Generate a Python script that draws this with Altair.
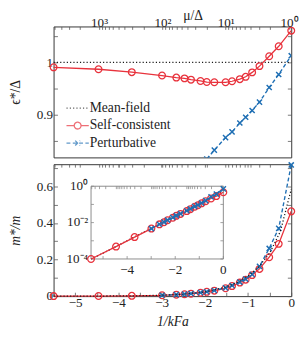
import altair as alt
import numpy as np
import pandas as pd

# ---------------- data ----------------
inv_kfa = [-5.50, -4.46, -3.69, -2.99, -2.66, -2.47, -2.32, -2.10, -1.955, -1.78,
           -1.52, -1.37, -1.19, -1.055, -0.905, -0.735, -0.51, -0.29, 0.0]
sc_eps = [0.9907, 0.987, 0.9814, 0.975, 0.971, 0.9695, 0.967, 0.9645, 0.9625, 0.962,
          0.962, 0.964, 0.968, 0.9725, 0.981, 0.993, 1.012, 1.031, 1.061]
pert_eps_x = inv_kfa[8:]
pert_eps = [0.815, 0.832, 0.856, 0.867, 0.884, 0.895, 0.908, 0.924, 0.952, 0.977, 1.013]
sc_mass = [1.0e-4, 4.8e-4, 1.6e-3, 4.7e-3, 8.0e-3, 0.0105, 0.0135, 0.0185, 0.0235, 0.030,
           0.043, 0.055, 0.074, 0.090, 0.115, 0.149, 0.213, 0.286, 0.464]
pert_mass_x = inv_kfa[3:]
pert_mass = [4.7e-3, 8.1e-3, 0.0107, 0.0138, 0.019, 0.024, 0.031, 0.045, 0.058, 0.077,
             0.093, 0.119, 0.163, 0.261, 0.371, 0.718]
mf_x = [-5.5, -5.0, -4.5, -4.0, -3.5, -3.0, -2.5, -2.0, -1.5, -1.25, -1.0, -0.75, -0.5, -0.25, 0.0]
mf_mass = [1.0e-4, 2.1e-4, 4.6e-4, 1.0e-3, 2.2e-3, 4.9e-3, 0.0107, 0.0234, 0.051, 0.075,
           0.11, 0.16, 0.235, 0.355, 0.585]
mf_eps = [1.0] * len(mf_x)

series = ["Mean-field", "Self-consistent", "Perturbative"]

# tick labels
mu_major = [1000, 100, 10, 1]
mu_major_labels = ["10³", "10²", "10¹", "10⁰"]
eps_ticks = [0.85, 0.9, 0.95, 1.0, 1.05]
mass_ticks = [0.0, 0.1, 0.2, 0.3, 0.4, 0.5, 0.6, 0.7]
x_ticks = [-5.0, -4.0, -3.0, -2.0, -1.0, 0.0]
x_half_ticks = [-5.5, -5.0, -4.5, -4.0, -3.5, -3.0, -2.5, -2.0, -1.5, -1.0, -0.5, 0.0]
inset_y_ticks = [1e-4, 1e-3, 1e-2, 1e-1, 1.0]
inset_y_labels = ["10⁻⁴", "", "10⁻²", "", "10⁰"]
inset_x_labels = ["", "−4", "", "−2", "", "0"]

# ---------------- layout / style ----------------
W, H1, H2 = 245, 135, 136
XDOM = [-5.5, 0.0]
EPS_DOM = [0.818, 1.069]
MASS_DOM = [0.0, 0.722]
INSET_YDOM = [1e-4, 1.0]
INSET_XR = [38.6, 175.0]
INSET_YR = [97.7, 22.7]

FONT = "Liberation Serif"
RED = "#e8323c"
BLUE = "#1f6fb4"
BLACK = "#1a1a1a"
TICKC = "#555555"
IN4 = {"expr": "-4"}
IN3 = {"expr": "-3"}


def mu_to_x(mu):
    # position of mu/Delta on the 1/kFa axis
    return (-0.0342 - np.log10(mu)) * 1.4658


mu_all = [m * 10 ** k for k in range(0, 4) for m in range(1, 10)]
mu_ticks = [round(float(mu_to_x(m)), 4) for m in mu_all if XDOM[0] <= mu_to_x(m) <= XDOM[1]]
mu_label_pos = [round(float(mu_to_x(m)), 4) for m in mu_major]
mu_expr = " : ".join(
    f"abs(datum.value - ({p})) < 0.001 ? '{l}'" for p, l in zip(mu_label_pos, mu_major_labels)
) + " : ''"

x_scale = alt.Scale(domain=XDOM, nice=False, zero=False)
eps_scale = alt.Scale(domain=EPS_DOM, nice=False, zero=False)
mass_scale = alt.Scale(domain=MASS_DOM, nice=False, zero=False)
inset_x_scale = alt.Scale(domain=XDOM, range=INSET_XR, nice=False, zero=False)
inset_y_scale = alt.Scale(type="log", domain=INSET_YDOM, range=INSET_YR, nice=False)

df_mf_top = pd.DataFrame({"x": mf_x, "y": mf_eps})
df_sc_top = pd.DataFrame({"x": inv_kfa, "y": sc_eps})
df_pt_top = pd.DataFrame({"x": pert_eps_x, "y": pert_eps})
df_mf_bot = pd.DataFrame({"x": mf_x, "y": mf_mass})
df_sc_bot = pd.DataFrame({"x": inv_kfa, "y": sc_mass})
df_pt_bot = pd.DataFrame({"x": pert_mass_x, "y": pert_mass})
df_leg = pd.DataFrame({"series": series})
df_in_y = pd.DataFrame({"y": inset_y_ticks, "t": inset_y_labels})
df_in_x = pd.DataFrame({"x": x_ticks, "t": inset_x_labels})
df_in_mu = pd.DataFrame({"x": mu_ticks})

X_PATH = "M-1,-1L1,1M-1,1L1,-1"


def series_layers(df, xs, ys, kind, clip=False):
    enc = dict(x=alt.X("x:Q", scale=xs, axis=None), y=alt.Y("y:Q", scale=ys, axis=None))
    if kind == "mf":
        return [alt.Chart(df).mark_line(color=BLACK, strokeDash=[1.2, 2.2], strokeWidth=1.3,
                                        clip=clip).encode(**enc)]
    if kind == "sc":
        return [
            alt.Chart(df).mark_line(color=RED, strokeWidth=1.3, clip=clip).encode(**enc),
            alt.Chart(df).mark_point(shape="circle", filled=False, size=48, strokeWidth=1.3,
                                     color=RED, opacity=1, clip=clip).encode(**enc),
        ]
    return [
        alt.Chart(df).mark_line(color=BLUE, strokeDash=[4, 2.5], strokeWidth=1.4, clip=clip).encode(**enc),
        alt.Chart(df).mark_point(shape=X_PATH, filled=False, size=28, strokeWidth=1.5,
                                 color=BLUE, opacity=1, clip=clip).encode(**enc),
    ]


def axes_layer(df, xs, ys, xaxis, yaxis):
    return alt.Chart(df).mark_point(opacity=0).encode(
        x=alt.X("x:Q", scale=xs, axis=xaxis), y=alt.Y("y:Q", scale=ys, axis=yaxis)
    )


def qd(v, scale):
    return dict(datum=v, type="quantitative", scale=scale, axis=None)


# ---------------- top panel ----------------
ax_top_mu = alt.Axis(orient="top", values=mu_ticks, labelExpr=mu_expr, tickSize=IN3,
                     labelPadding=0, labelFlush=False, labelOverlap=False,
                     title="μ/Δ", titleX=143.3, titleY=-7.0, titleAlign="center",
                     titleBaseline="alphabetic", titleAngle=0)
ax_eps = alt.Axis(orient="left", values=eps_ticks,
                  labelExpr="abs(datum.value-1)<1e-6 ? '1' : abs(datum.value-0.9)<1e-6 ? '0.9' : ''",
                  tickSize=IN4, labelPadding=5, labelOverlap=False, title="ϵ*/Δ", titlePadding=14.5)
ax_eps_r = alt.Axis(orient="right", values=eps_ticks, labels=False, tickSize=IN4, title=None)

sym_line = "M-2.3,0L2.3,0"
sym_circ = "M-2.3,0L-0.7,0M0.7,0L2.3,0M0.7,0A0.7,0.7,0,1,1,-0.7,0A0.7,0.7,0,1,1,0.7,0"
sym_x = "M-2.3,0L2.3,0M-0.5,-0.5L0.5,0.5M-0.5,0.5L0.5,-0.5"
LEG = alt.Legend(title=None, orient="none", legendX=17.8, legendY=77.2, direction="vertical",
                 labelFont=FONT, labelFontSize=14, labelColor="#222", symbolSize=100,
                 symbolStrokeWidth=1.3, rowPadding=4, labelOffset=5.5, padding=0)
legend_layer = alt.Chart(df_leg).mark_point(filled=False, clip=True, strokeWidth=1.3).encode(
    x=alt.value(-80), y=alt.value(-80),
    color=alt.Color("series:N", scale=alt.Scale(domain=series, range=[BLACK, RED, BLUE]), legend=LEG),
    shape=alt.Shape("series:N", scale=alt.Scale(domain=series, range=[sym_line, sym_circ, sym_x]), legend=LEG),
    strokeDash=alt.StrokeDash("series:N",
                              scale=alt.Scale(domain=series, range=[[1.2, 2.2], [1, 0], [4, 2.5]]),
                              legend=LEG),
)

top_layers = (
    [axes_layer(df_mf_top, x_scale, eps_scale, ax_top_mu, ax_eps),
     axes_layer(df_mf_top, x_scale, eps_scale, None, ax_eps_r)]
    + series_layers(df_mf_top, x_scale, eps_scale, "mf")
    + series_layers(df_sc_top, x_scale, eps_scale, "sc")
    + series_layers(df_pt_top, x_scale, eps_scale, "pt", clip=True)
    + [legend_layer]
)
top = alt.layer(*top_layers).resolve_scale(x="independent", y="independent").properties(width=W, height=H1)

# ---------------- bottom panel ----------------
ax_x = alt.Axis(orient="bottom", values=x_half_ticks,
                labelExpr="datum.value == round(datum.value) ? format(datum.value, 'd') : ''",
                tickSize=IN4, labelPadding=4, labelFlush=False, labelOverlap=False,
                title="1/kFa", titlePadding=6, titleFontStyle="italic")
ax_x_top = alt.Axis(orient="top", values=sorted(set(mu_ticks + x_ticks)), labels=False,
                    tickSize=IN3, title=None)
ax_mass = alt.Axis(orient="left", values=mass_ticks,
                   labelExpr="round(datum.value*10) % 2 == 0 ? format(datum.value, '~g') : ''",
                   tickSize=IN4, labelPadding=5, labelOverlap=False, title="m*/m",
                   titlePadding=14.5, titleFontStyle="italic")
ax_mass_r = alt.Axis(orient="right", values=mass_ticks, labels=False, tickSize=IN4, title=None)

# inset drawn with marks on its own scales
inset_box = alt.Chart(pd.DataFrame({"k": [0]})).mark_rect(fill="white", stroke="#8a8a8a", strokeWidth=1).encode(
    x=alt.X(**qd(XDOM[0], inset_x_scale)), x2=alt.X2(datum=XDOM[1]),
    y=alt.Y(**qd(INSET_YDOM[0], inset_y_scale)), y2=alt.Y2(datum=INSET_YDOM[1]),
)
tick_left = alt.Chart(df_in_y).mark_rule(color="#888888", strokeWidth=0.8, x2Offset=3).encode(
    x=alt.X(**qd(XDOM[0], inset_x_scale)), x2=alt.X2(datum=XDOM[0]),
    y=alt.Y("y:Q", scale=inset_y_scale, axis=None))
tick_right = alt.Chart(df_in_y).mark_rule(color="#888888", strokeWidth=0.8, x2Offset=-3).encode(
    x=alt.X(**qd(XDOM[1], inset_x_scale)), x2=alt.X2(datum=XDOM[1]),
    y=alt.Y("y:Q", scale=inset_y_scale, axis=None))
tick_bottom = alt.Chart(df_in_x).mark_rule(color="#888888", strokeWidth=0.8, y2Offset=-3).encode(
    y=alt.Y(**qd(INSET_YDOM[0], inset_y_scale)), y2=alt.Y2(datum=INSET_YDOM[0]),
    x=alt.X("x:Q", scale=inset_x_scale, axis=None))
tick_top = alt.Chart(df_in_mu).mark_rule(color="#888888", strokeWidth=0.8, y2Offset=3).encode(
    y=alt.Y(**qd(INSET_YDOM[1], inset_y_scale)), y2=alt.Y2(datum=INSET_YDOM[1]),
    x=alt.X("x:Q", scale=inset_x_scale, axis=None))
lab_left = alt.Chart(df_in_y).mark_text(align="right", baseline="middle", dx=-3, font=FONT,
                                        fontSize=13.5, color="#222222").encode(
    x=alt.X(**qd(XDOM[0], inset_x_scale)), y=alt.Y("y:Q", scale=inset_y_scale, axis=None), text="t:N")
lab_bottom = alt.Chart(df_in_x).mark_text(align="center", baseline="top", dy=4, font=FONT,
                                          fontSize=13.5, color="#222222").encode(
    y=alt.Y(**qd(INSET_YDOM[0], inset_y_scale)), x=alt.X("x:Q", scale=inset_x_scale, axis=None), text="t:N")

bottom_layers = (
    [axes_layer(df_mf_bot, x_scale, mass_scale, ax_x, ax_mass),
     axes_layer(df_mf_bot, x_scale, mass_scale, ax_x_top, ax_mass_r)]
    + series_layers(df_sc_bot, x_scale, mass_scale, "sc")
    + series_layers(df_pt_bot, x_scale, mass_scale, "pt")
    + series_layers(df_mf_bot, x_scale, mass_scale, "mf")
    + [inset_box, tick_left, tick_right, tick_bottom, tick_top, lab_left, lab_bottom]
    + series_layers(df_mf_bot, inset_x_scale, inset_y_scale, "mf")
    + series_layers(df_sc_bot, inset_x_scale, inset_y_scale, "sc")
    + series_layers(df_pt_bot, inset_x_scale, inset_y_scale, "pt")
)
bottom = alt.layer(*bottom_layers).resolve_scale(x="independent", y="independent").properties(width=W, height=H2)

chart = (
    alt.vconcat(top, bottom, spacing=0)
    .properties(padding={"left": 0, "top": -5, "right": 0, "bottom": 0}, background="white")
    .configure_view(stroke="#333333", strokeWidth=1)
    .configure_axis(labelFont=FONT, labelFontSize=13.5, labelColor="#222222", titleFont=FONT,
                    titleFontSize=14, titleColor="#222222", titleFontWeight="normal",
                    tickColor=TICKC, tickWidth=0.8, domain=False, grid=False)
)

chart.save("out.html", embed_options={"renderer": "svg", "actions": False})
